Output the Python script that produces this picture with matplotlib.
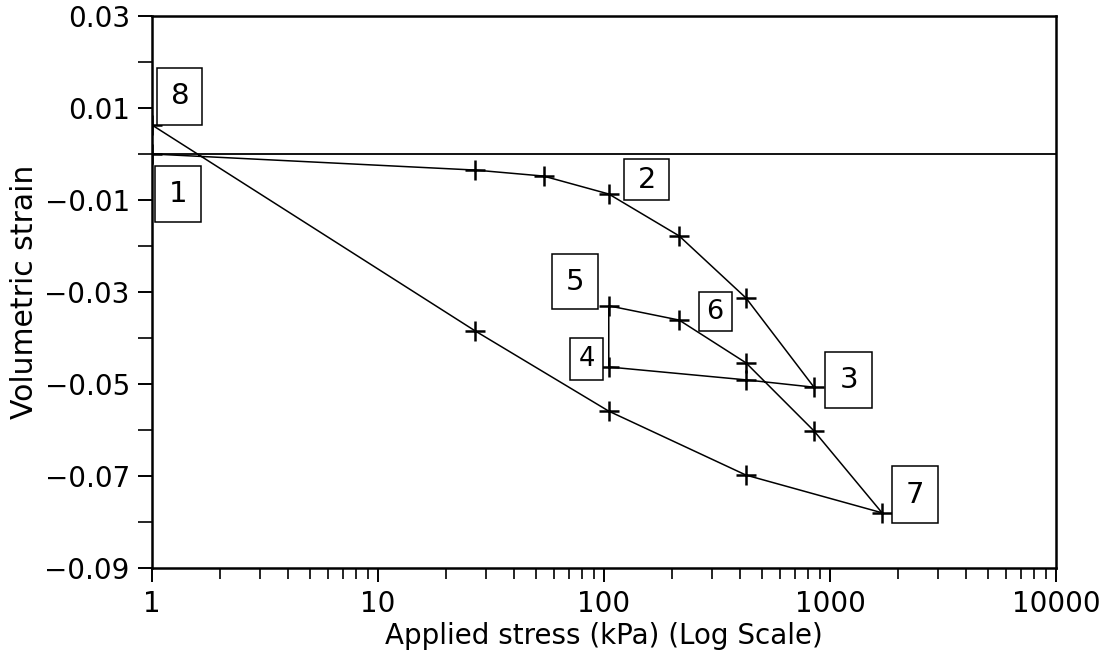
import numpy as np
import matplotlib
matplotlib.use("Agg")
import matplotlib.pyplot as plt
from matplotlib.path import Path
from matplotlib.ticker import FixedLocator, LogLocator, NullFormatter

# Stress path (kPa) and volumetric strain, in load order 1 -> 8
stress = [1, 27, 54, 105, 215, 425, 850, 425, 105, 105, 215, 425, 850,
          1700, 425, 105, 27, 1]
strain = [0.0, -0.0035, -0.0048, -0.0087, -0.0178, -0.0313, -0.0507,
          -0.0491, -0.0463, -0.0330, -0.0361, -0.0454, -0.0602, -0.0780,
          -0.0698, -0.0559, -0.0385, 0.0063]

# Stage labels and where their boxes sit (stress, strain)
stage_labels = ["1", "2", "3", "4", "5", "6", "7", "8"]
label_stress = [1.30, 155, 1213, 84, 74.4, 310, 2377, 1.33]
label_strain = [-0.0087, -0.00565, -0.0491, -0.0446, -0.0278, -0.0343,
                -0.0741, 0.0126]

y_major = [0.03, 0.01, -0.01, -0.03, -0.05, -0.07, -0.09]
x_major = [1, 10, 100, 1000, 10000]

# box size in pixels and font size for each label
box_w = [46, 45, 47, 33, 46, 33, 46, 45]
box_h = [56, 41, 56, 42, 55, 39, 57, 57]
box_fs = [21, 20.5, 21, 18.5, 21, 19.5, 21, 21]


def fixed_box(w, h):
    # boxstyle callable: rectangle of fixed pixel size centred on the text
    def box(x0, y0, width, height, mutation_size):
        cx = x0 + width / 2
        cy = y0 + height / 2
        verts = [(cx - w / 2, cy - h / 2), (cx + w / 2, cy - h / 2),
                 (cx + w / 2, cy + h / 2), (cx - w / 2, cy + h / 2),
                 (cx - w / 2, cy - h / 2)]
        codes = [Path.MOVETO] + [Path.LINETO] * 3 + [Path.CLOSEPOLY]
        return Path(verts, codes)
    return box


fig = plt.figure(figsize=(11.07, 6.55), dpi=100)
ax = fig.add_axes([0.1373, 0.1328, 0.8166, 0.8428])

ax.axhline(0.0, color="black", lw=1.3, zorder=1)
ax.plot(stress, strain, color="black", lw=1.1, marker="+", markersize=15,
        markeredgewidth=1.8, zorder=2)

for i, lab in enumerate(stage_labels):
    ax.text(label_stress[i], label_strain[i], lab, fontsize=box_fs[i],
            ha="center", va="center",
            bbox=dict(boxstyle=fixed_box(box_w[i], box_h[i]), fc="white",
                      ec="black", lw=1.1))

ax.set_xscale("log")
ax.set_xlim(1, 10000)
ax.set_ylim(-0.09, 0.03)

ax.xaxis.set_major_locator(FixedLocator(x_major))
ax.set_xticklabels([str(v) for v in x_major])
ax.xaxis.set_minor_locator(LogLocator(base=10, subs=np.arange(2, 10)))
ax.xaxis.set_minor_formatter(NullFormatter())

ax.yaxis.set_major_locator(FixedLocator(y_major))
ax.set_yticklabels(["%.2f" % v if v >= 0 else "\u2212%.2f" % -v for v in y_major])
ax.yaxis.set_minor_locator(FixedLocator(np.arange(-0.08, 0.03, 0.02)))

ax.tick_params(axis="both", which="major", direction="out", length=10, width=1.4,
               labelsize=20, pad=6)
ax.tick_params(axis="both", which="minor", direction="out", length=8, width=1.2)
ax.tick_params(axis="y", which="minor", length=10)

for sp in ax.spines.values():
    sp.set_linewidth(1.8)

ax.set_xlabel("Applied stress (kPa) (Log Scale)", fontsize=20, labelpad=3)
ax.set_ylabel("Volumetric strain", fontsize=21.5, labelpad=4)

fig.savefig("out.png", dpi=100)
